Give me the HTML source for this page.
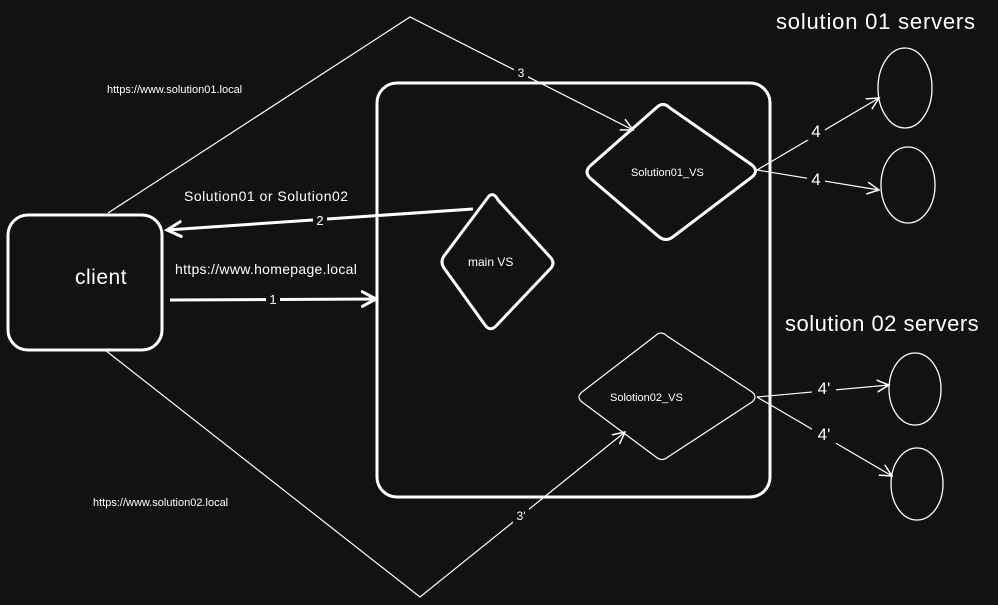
<!DOCTYPE html>
<html><head><meta charset="utf-8"><style>
html,body{margin:0;padding:0;background:#121212;}
svg{display:block}
text{font-family:"Liberation Sans",sans-serif;fill:#ffffff;}
</style></head><body>
<svg width="998" height="605" viewBox="0 0 998 605" xmlns="http://www.w3.org/2000/svg">
<defs>
<marker id="a" markerWidth="14" markerHeight="14" refX="12" refY="7" orient="auto" markerUnits="userSpaceOnUse">
<path d="M0,1 L12,7 L0,13" fill="none" stroke="#fff" stroke-width="1.5"/>
</marker>
<marker id="b" markerWidth="18" markerHeight="18" refX="15" refY="9" orient="auto" markerUnits="userSpaceOnUse">
<path d="M0,1 L15,9 L0,17" fill="none" stroke="#fff" stroke-width="3"/>
</marker>
</defs>
<rect width="998" height="605" fill="#121212"/>
<g fill="none" stroke="#fff">
<rect x="8" y="215" width="154" height="135" rx="20" stroke-width="3"/>
<rect x="377" y="83" width="393" height="414" rx="20" stroke-width="3"/>
<path d="M489,196 Q494,192 498,200 L551,258 Q555,263 551,268 L496,326 Q490,332 485,325 L444,268 Q440,262 444,256 Z" stroke-width="3"/>
<path d="M656,108 Q663,101 670,108 L752,165 Q759,171 752,177 L674,236 Q666,243 658,236 L590,178 Q584,172 590,166 Z" stroke-width="3"/>
<path d="M655,336 Q661,330 667,336 L752,392 Q758,397 752,402 L668,457 Q662,462 656,457 L582,402 Q576,397 582,392 Z" stroke-width="1.2"/>
<ellipse cx="905" cy="88" rx="27" ry="40" stroke-width="1.3"/>
<ellipse cx="908" cy="185" rx="27" ry="38" stroke-width="1.3"/>
<ellipse cx="915" cy="389" rx="26" ry="36" stroke-width="1.3"/>
<ellipse cx="917" cy="484" rx="26" ry="36" stroke-width="1.3"/>
<polyline points="108,213 410,17 633,130" stroke-width="1.2" marker-end="url(#a)"/>
<polyline points="105,350 420,597 625,432" stroke-width="1.2" marker-end="url(#a)"/>
<line x1="170" y1="300" x2="376" y2="299" stroke-width="3" marker-end="url(#b)"/>
<line x1="473" y1="209" x2="167" y2="230" stroke-width="3" marker-end="url(#b)"/>
<line x1="757" y1="170" x2="879" y2="98" stroke-width="1.2" marker-end="url(#a)"/>
<line x1="757" y1="170" x2="879" y2="190" stroke-width="1.2" marker-end="url(#a)"/>
<line x1="757" y1="397" x2="889" y2="385" stroke-width="1.2" marker-end="url(#a)"/>
<line x1="757" y1="397" x2="892" y2="476" stroke-width="1.2" marker-end="url(#a)"/>
</g>
<g fill="#121212">
<rect x="514" y="64" width="14" height="16"/>
<rect x="513" y="507" width="16" height="16"/>
<rect x="266" y="291" width="14" height="16"/>
<rect x="313" y="212" width="14" height="16"/>
<rect x="807" y="120" width="18" height="20"/>
<rect x="807" y="168" width="18" height="20"/>
<rect x="812" y="378" width="24" height="20"/>
<rect x="812" y="424" width="24" height="20"/>
</g>
<text x="776" y="29" font-size="22" letter-spacing="0.8">solution 01 servers</text>
<text x="785" y="331" font-size="22" letter-spacing="0.5">solution 02 servers</text>
<text x="107" y="93" font-size="11">https://www.solution01.local</text>
<text x="93" y="506" font-size="11">https://www.solution02.local</text>
<text x="75" y="284" font-size="21" letter-spacing="0.5">client</text>
<text x="175" y="274" font-size="14" letter-spacing="0.3">https://www.homepage.local</text>
<text x="184" y="201" font-size="14" letter-spacing="0.5">Solution01 or Solution02</text>
<text x="468" y="266" font-size="12">main VS</text>
<text x="631" y="176" font-size="11">Solution01_VS</text>
<text x="610" y="401" font-size="11">Solotion02_VS</text>
<text x="521" y="77" font-size="12" text-anchor="middle">3</text>
<text x="521" y="520" font-size="12" text-anchor="middle">3'</text>
<text x="273" y="304" font-size="13" text-anchor="middle">1</text>
<text x="320" y="225" font-size="13" text-anchor="middle">2</text>
<text x="816" y="137" font-size="17" text-anchor="middle">4</text>
<text x="816" y="185" font-size="17" text-anchor="middle">4</text>
<text x="824" y="394" font-size="17" text-anchor="middle">4'</text>
<text x="824" y="440" font-size="17" text-anchor="middle">4'</text>
</svg>
</body></html>
